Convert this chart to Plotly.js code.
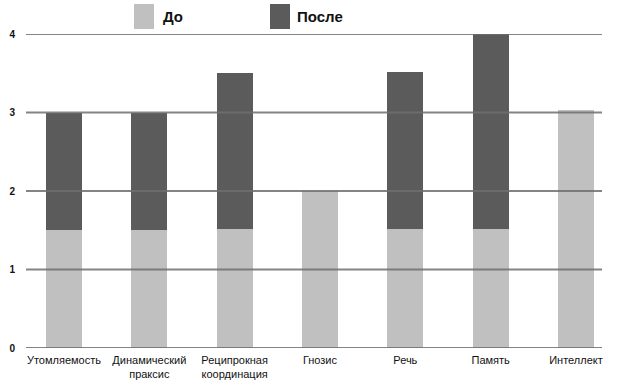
<!DOCTYPE html>
<html><head><meta charset="utf-8">
<script src="https://cdn.plot.ly/plotly-3.0.1.min.js"></script>
<style>html,body{margin:0;padding:0;background:#fff}#c{width:627px;height:389px}</style>
</head><body><div id="c"></div>
<script>
var categories = ["Утомляемость", "Динамический<br>праксис", "Реципрокная<br>координация", "Гнозис", "Речь", "Память", "Интеллект"];
var before = [1.5, 1.5, 1.52, 2.0, 1.52, 1.52, 3.03];
var after = [1.5, 1.5, 1.98, 0, 2.0, 2.48, 0];
var seriesNames = ["До", "После"];
var yTicks = [0, 1, 2, 3, 4];

var W = 627, H = 389, L = 26, R = 25, T = 34, B = 41;
var pw = W - L - R, ph = H - T - B;
function px(x){ return (x - L) / pw; }
function py(y){ return (H - B - y) / ph; }

var font = {family: "'Liberation Sans', Arial, sans-serif", color: '#111'};
var idx = categories.map(function(_, i){ return i; });

var traces = [
  {type: 'bar', x: idx, y: before, name: seriesNames[0], marker: {color: '#c0c0c0'}, width: 0.42, hoverinfo: 'y'},
  {type: 'bar', x: idx, y: after, name: seriesNames[1], marker: {color: '#5b5b5b'}, width: 0.42, hoverinfo: 'y'}
];

var shapes = yTicks.map(function(v){
  return {type: 'line', xref: 'paper', yref: 'y', x0: 0, x1: 1, y0: v, y1: v, layer: 'above',
          line: {color: 'rgba(110,110,110,0.85)', width: 2}};
});
// legend swatches
shapes.push({type: 'rect', xref: 'paper', yref: 'paper', x0: px(134), x1: px(154), y0: py(29), y1: py(4), fillcolor: '#c0c0c0', line: {width: 0}});
shapes.push({type: 'rect', xref: 'paper', yref: 'paper', x0: px(270), x1: px(290), y0: py(29), y1: py(4), fillcolor: '#5b5b5b', line: {width: 0}});

var annotations = [
  {xref: 'paper', yref: 'paper', x: px(161), y: py(16), xanchor: 'left', yanchor: 'middle', text: seriesNames[0], showarrow: false, font: Object.assign({size: 15, weight: 600}, font)},
  {xref: 'paper', yref: 'paper', x: px(295), y: py(16), xanchor: 'left', yanchor: 'middle', text: seriesNames[1], showarrow: false, font: Object.assign({size: 15, weight: 600}, font)}
];

var layout = {
  width: W, height: H,
  margin: {l: L, r: R, t: T, b: B, pad: 0},
  barmode: 'stack',
  showlegend: false,
  paper_bgcolor: '#fff', plot_bgcolor: '#fff',
  xaxis: {range: [-0.445, 6.305], tickmode: 'array', tickvals: idx, ticktext: categories,
          showgrid: false, zeroline: false, showline: false, ticks: '', ticklabelstandoff: 4,
          tickfont: Object.assign({size: 11}, font), fixedrange: true},
  yaxis: {range: [0, 4], tickmode: 'array', tickvals: yTicks, ticktext: yTicks.map(function(v){ return '<b>' + v + '</b>'; }),
          showgrid: false, zeroline: false, showline: false, ticks: '', ticklabelstandoff: 10,
          tickfont: Object.assign({size: 10}, font), fixedrange: true},
  shapes: shapes,
  annotations: annotations
};
Plotly.newPlot('c', traces, layout, {displayModeBar: false, staticPlot: true});
</script></body></html>
